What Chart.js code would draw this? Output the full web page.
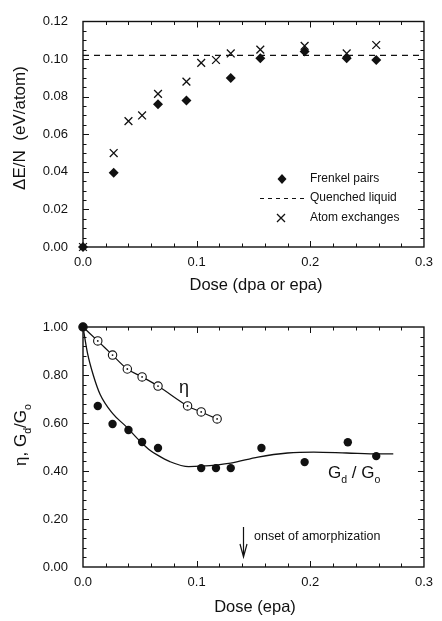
<!DOCTYPE html>
<html>
<head>
<meta charset="utf-8">
<script src="https://cdn.jsdelivr.net/npm/chart.js@4.4.0/dist/chart.umd.min.js"></script>
<style>
html, body { margin: 0; padding: 0; background: #fff; }
#wrap { position: relative; width: 442px; height: 621px; }
canvas { position: absolute; left: 0; }
</style>
</head>
<body>
<div id="wrap">
  <canvas id="energyChart" width="442" height="300" style="top:0"></canvas>
  <canvas id="modulusChart" width="442" height="321" style="top:300px"></canvas>
</div>
<script>
// ---- top panel: stored energy vs dose ----
var frenkelDose   = [0, 0.027, 0.066, 0.091, 0.130, 0.156, 0.195, 0.232, 0.258];
var frenkelEnergy = [0, 0.0395, 0.076, 0.078, 0.090, 0.1005, 0.104, 0.1005, 0.0995];
var exchangeDose   = [0, 0.027, 0.040, 0.052, 0.066, 0.091, 0.104, 0.117, 0.130, 0.156, 0.195, 0.232, 0.258];
var exchangeEnergy = [0, 0.050, 0.067, 0.070, 0.0815, 0.088, 0.098, 0.0995, 0.103, 0.105, 0.107, 0.103, 0.1075];
var quenchedLiquid = 0.102;
var doseTicks   = [0, 0.1, 0.2, 0.3];
var energyTicks = [0, 0.02, 0.04, 0.06, 0.08, 0.10, 0.12];

// ---- bottom panel: eta and shear modulus ratio ----
var etaDose = [0, 0.013, 0.026, 0.039, 0.052, 0.066, 0.092, 0.104, 0.118];
var etaVal  = [1.0, 0.942, 0.883, 0.825, 0.792, 0.754, 0.671, 0.646, 0.617];
var gDose = [0, 0.013, 0.026, 0.040, 0.052, 0.066, 0.104, 0.117, 0.130, 0.157, 0.195, 0.233, 0.258];
var gVal  = [1.0, 0.671, 0.596, 0.571, 0.521, 0.496, 0.412, 0.412, 0.412, 0.496, 0.437, 0.52, 0.462];
var gFitDose = [0, 0.004, 0.009, 0.015, 0.026, 0.038, 0.050, 0.058, 0.066, 0.076, 0.093, 0.104, 0.130, 0.154, 0.180, 0.203, 0.232, 0.261, 0.273];
var gFitVal  = [1.0, 0.89, 0.80, 0.72, 0.64, 0.585, 0.525, 0.49, 0.465, 0.44, 0.418, 0.42, 0.433, 0.458, 0.475, 0.479, 0.475, 0.471, 0.471];
var ratioTicks = [0, 0.2, 0.4, 0.6, 0.8, 1.0];
var onsetDose = 0.141;

var FONT = '"Liberation Sans", Arial, Helvetica, sans-serif';
var INK = '#111';

function pts(xs, ys) {
    return xs.map(function(x, i) { return { x: x, y: ys[i] }; });
}

// frame box + inward ticks on all four sides
function tickFrame(xDiv, xMajor, yDiv, yMajor) {
    return {
        id: 'tickFrame',
        beforeDatasetsDraw: function(chart) {
            var ctx = chart.ctx, a = chart.chartArea, sx = chart.scales.x, sy = chart.scales.y;
            ctx.save();
            ctx.strokeStyle = INK;
            ctx.lineWidth = 1.4;
            ctx.strokeRect(a.left, a.top, a.right - a.left, a.bottom - a.top);
            ctx.lineWidth = 1;
            ctx.beginPath();
            var i, p, len;
            for (i = 1; i < xDiv; i++) {
                p = Math.round(sx.getPixelForValue(sx.min + (sx.max - sx.min) * i / xDiv)) + 0.5;
                len = (i % xMajor === 0) ? 6 : 3.5;
                ctx.moveTo(p, a.bottom); ctx.lineTo(p, a.bottom - len);
                ctx.moveTo(p, a.top);    ctx.lineTo(p, a.top + len);
            }
            for (i = 1; i < yDiv; i++) {
                p = Math.round(sy.getPixelForValue(sy.min + (sy.max - sy.min) * i / yDiv)) + 0.5;
                len = (i % yMajor === 0) ? 6 : 3.5;
                ctx.moveTo(a.left, p);  ctx.lineTo(a.left + len, p);
                ctx.moveTo(a.right, p); ctx.lineTo(a.right - len, p);
            }
            ctx.stroke();
            ctx.restore();
        }
    };
}

// text with subscripts: parts = [[text, isSub], ...]
function drawRich(ctx, parts, x, y, size, centered) {
    var widths = parts.map(function(p) {
        ctx.font = (p[1] ? size * 0.62 : size) + 'px ' + FONT;
        return ctx.measureText(p[0]).width;
    });
    var total = widths.reduce(function(s, w) { return s + w; }, 0);
    var cx = centered ? x - total / 2 : x;
    ctx.textAlign = 'left';
    ctx.textBaseline = 'alphabetic';
    parts.forEach(function(p, i) {
        ctx.font = (p[1] ? size * 0.62 : size) + 'px ' + FONT;
        ctx.fillText(p[0], cx, p[1] ? y + size * 0.3 : y);
        cx += widths[i];
    });
}

function axisOpts(min, max, tickList, digits, pad, fit) {
    return {
        type: 'linear', min: min, max: max,
        afterBuildTicks: function(s) { s.ticks = tickList.map(function(v) { return { value: v }; }); },
        afterFit: fit,
        grid: { display: false, drawTicks: false },
        border: { display: false },
        ticks: {
            padding: pad, color: INK, autoSkip: false, maxRotation: 0,
            font: { family: FONT, size: 13, lineHeight: 1 },
            callback: function(v) { return Number(v).toFixed(digits); }
        }
    };
}

var energyText = {
    id: 'energyText',
    afterDraw: function(chart) {
        var ctx = chart.ctx;
        ctx.save();
        ctx.fillStyle = INK; ctx.strokeStyle = INK;
        ctx.font = '16.5px ' + FONT;
        ctx.textAlign = 'center'; ctx.textBaseline = 'middle';
        ctx.fillText('Dose (dpa or epa)', 256, 285);
        ctx.save();
        ctx.translate(20, 128);
        ctx.rotate(-Math.PI / 2);
        ctx.font = '17px ' + FONT;
        ctx.fillText('\u0394E/N  (eV/atom)', 0, 0);
        ctx.restore();
        // legend
        ctx.beginPath();
        ctx.moveTo(282, 174); ctx.lineTo(286.5, 179); ctx.lineTo(282, 184); ctx.lineTo(277.5, 179);
        ctx.closePath(); ctx.fill();
        ctx.lineWidth = 1.2;
        ctx.setLineDash([4, 4]);
        ctx.beginPath(); ctx.moveTo(260, 198.5); ctx.lineTo(304, 198.5); ctx.stroke();
        ctx.setLineDash([]);
        ctx.lineWidth = 1.3;
        ctx.beginPath();
        ctx.moveTo(277, 214); ctx.lineTo(285, 222);
        ctx.moveTo(285, 214); ctx.lineTo(277, 222);
        ctx.stroke();
        ctx.font = '12px ' + FONT;
        ctx.textAlign = 'left';
        ctx.fillText('Frenkel pairs', 310, 179);
        ctx.fillText('Quenched liquid', 310, 198);
        ctx.fillText('Atom exchanges', 310, 218);
        ctx.restore();
    }
};

new Chart(document.getElementById('energyChart'), {
    type: 'scatter',
    data: {
        datasets: [{
            label: 'Frenkel pairs',
            data: pts(frenkelDose, frenkelEnergy),
            pointStyle: 'rectRot', pointRadius: 5,
            backgroundColor: INK, borderColor: INK, borderWidth: 0,
            clip: false, order: 1
        }, {
            label: 'Atom exchanges',
            data: pts(exchangeDose, exchangeEnergy),
            pointStyle: 'crossRot', pointRadius: 5.5,
            borderColor: INK, borderWidth: 1.3,
            clip: false, order: 2
        }, {
            label: 'Quenched liquid',
            type: 'line',
            data: pts([0, 0.3], [quenchedLiquid, quenchedLiquid]),
            borderColor: INK, borderWidth: 1.2, borderDash: [6, 5],
            pointRadius: 0, order: 3
        }]
    },
    options: {
        responsive: false, animation: false, devicePixelRatio: 1,
        layout: { padding: { top: 7, right: 14, left: 0, bottom: 0 } },
        plugins: { legend: { display: false }, tooltip: { enabled: false } },
        scales: {
            x: axisOpts(0, 0.3, doseTicks, 1, 9, function(s) { s.height = 53; }),
            y: axisOpts(0, 0.12, energyTicks, 2, 15, function(s) { s.width = 83; })
        }
    },
    plugins: [tickFrame(15, 5, 24, 4), energyText]
});

var modulusText = {
    id: 'modulusText',
    afterDraw: function(chart) {
        var ctx = chart.ctx, sx = chart.scales.x;
        ctx.save();
        ctx.fillStyle = INK; ctx.strokeStyle = INK;
        ctx.font = '16.5px ' + FONT;
        ctx.textAlign = 'center'; ctx.textBaseline = 'middle';
        ctx.fillText('Dose (epa)', 255, 307);
        ctx.save();
        ctx.translate(20, 135);
        ctx.rotate(-Math.PI / 2);
        drawRich(ctx, [['\u03B7, G', false], ['d', true], ['/G', false], ['o', true]], 0, 6, 17, true);
        ctx.restore();
        ctx.font = '18px ' + FONT;
        ctx.textAlign = 'center'; ctx.textBaseline = 'middle';
        ctx.fillText('\u03B7', 184, 88);
        drawRich(ctx, [['G', false], ['d', true], [' / G', false], ['o', true]], 328, 178, 17, false);
        // onset arrow
        var ax = Math.round(sx.getPixelForValue(onsetDose)) + 0.5;
        ctx.lineWidth = 1.2;
        ctx.beginPath();
        ctx.moveTo(ax, 227); ctx.lineTo(ax, 256);
        ctx.moveTo(ax - 3.5, 244); ctx.lineTo(ax, 257); ctx.lineTo(ax + 3.5, 244);
        ctx.stroke();
        ctx.font = '12.5px ' + FONT;
        ctx.textAlign = 'left'; ctx.textBaseline = 'middle';
        ctx.fillText('onset of amorphization', 254, 237);
        ctx.restore();
    }
};

new Chart(document.getElementById('modulusChart'), {
    type: 'scatter',
    data: {
        datasets: [{
            label: 'Gd/Go',
            data: pts(gDose, gVal),
            pointStyle: 'circle', pointRadius: 4.2,
            backgroundColor: INK, borderColor: INK, borderWidth: 0,
            clip: false, order: 0
        }, {
            label: 'eta centre',
            data: pts(etaDose, etaVal),
            pointStyle: 'circle', pointRadius: 0.9,
            backgroundColor: INK, borderColor: INK, borderWidth: 0,
            clip: false, order: 1
        }, {
            label: 'eta',
            type: 'line',
            data: pts(etaDose, etaVal),
            borderColor: INK, borderWidth: 1.2, tension: 0.35,
            pointStyle: 'circle', pointRadius: 4.2,
            pointBackgroundColor: '#fff', pointBorderColor: INK, pointBorderWidth: 1.1,
            clip: false, order: 2
        }, {
            label: 'Gd/Go fit',
            type: 'line',
            data: pts(gFitDose, gFitVal),
            borderColor: INK, borderWidth: 1.3,
            cubicInterpolationMode: 'monotone',
            pointRadius: 0, order: 3
        }]
    },
    options: {
        responsive: false, animation: false, devicePixelRatio: 1,
        layout: { padding: { top: 27, right: 14, left: 0, bottom: 0 } },
        plugins: { legend: { display: false }, tooltip: { enabled: false } },
        scales: {
            x: axisOpts(0, 0.3, doseTicks, 1, 9, function(s) { s.height = 54; }),
            y: axisOpts(0, 1.0, ratioTicks, 2, 15, function(s) { s.width = 83; })
        }
    },
    plugins: [tickFrame(15, 5, 25, 5), modulusText]
});
</script>
</body>
</html>
